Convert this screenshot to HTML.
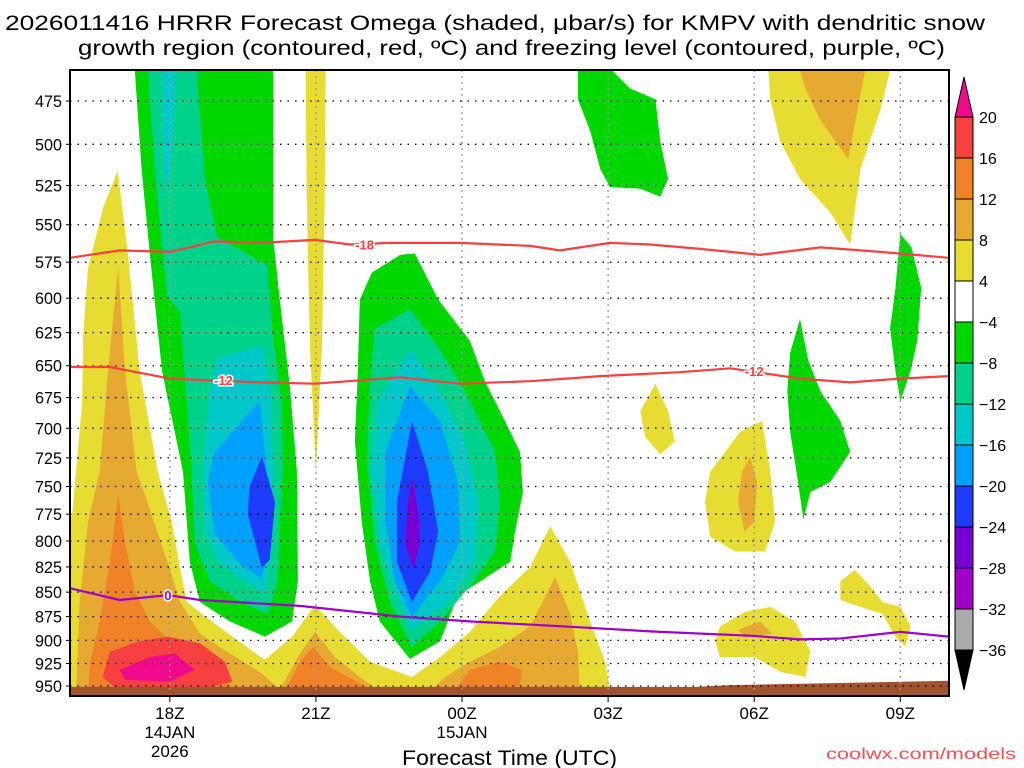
<!DOCTYPE html>
<html><head><meta charset="utf-8"><style>
html,body{margin:0;padding:0;background:#fff;width:1024px;height:768px;overflow:hidden}
svg text{font-family:"Liberation Sans",sans-serif}
</style></head><body>
<svg id="chart" width="1024" height="768" xmlns="http://www.w3.org/2000/svg">
<text x="5" y="30" font-size="21" textLength="980" lengthAdjust="spacingAndGlyphs">2026011416 HRRR Forecast Omega (shaded, μbar/s) for KMPV with dendritic snow</text>
<text x="78" y="55" font-size="21" textLength="867" lengthAdjust="spacingAndGlyphs">growth region (contoured, red, ºC) and freezing level (contoured, purple, ºC)</text>
<defs><clipPath id="pc"><rect x="70" y="70" width="879" height="626"/></clipPath></defs>
<g id="fills" clip-path="url(#pc)"></g>
<g id="grid"></g>
<g id="lines" clip-path="url(#pc)"></g>
<rect x="70" y="70" width="879" height="626" fill="none" stroke="#000" stroke-width="2"/>
<g id="axes"></g>
<g id="cbar"></g>
<text x="402" y="765" font-size="21" textLength="215" lengthAdjust="spacingAndGlyphs">Forecast Time (UTC)</text>
<text x="826" y="759" font-size="16" fill="#f05050" textLength="190" lengthAdjust="spacingAndGlyphs">coolwx.com/models</text>
</svg>
<script>
// ---- data ----
const hourDomain=[15.95,34.0];
const pressureTicks=[475,500,525,550,575,600,625,650,675,700,725,750,775,800,825,850,875,900,925,950];
const timeTickHours=[18,21,24,27,30,33];
const timeTickLabels=["18Z","21Z","00Z","03Z","06Z","09Z"];
const dateLabels=[[18,"14JAN","2026"],[24,"15JAN",""]];
const levelBounds=[20,16,12,8,4,-4,-8,-12,-16,-20,-24,-28,-32,-36];
const levelColors=["#f74040","#f08228","#e6aa32","#e6dc32","#ffffff","#00d700","#00d28c","#00c8c8","#00a0ff","#1e3cff","#7800d2","#a000c8","#aaaaaa"];
const colorAbove="#ef0a8c", colorBelow="#000000";
const C={y:"#e6dc32",o1:"#e6aa32",o2:"#f08228",r:"#f74040",m:"#ef0a8c",g:"#00d700",t:"#00d28c",c:"#00c8c8",b:"#00a0ff",d:"#1e3cff",p:"#7800d2"};
const yellowMain=[[15.95,960],[15.95,782],[16.0,773],[16.2,678],[16.22,628],[16.32,579],[16.63,539],[16.93,516],[17.14,570],[17.38,654],[17.75,737],[18.04,782],[18.21,827],[18.35,860],[18.68,873],[19.23,894],[19.95,921],[20.51,896],[20.98,863],[21.49,891],[22.11,923],[22.97,940],[23.55,918],[24.16,891],[24.78,854],[25.4,825],[25.81,786],[26.22,820],[26.63,880],[26.94,923],[27.04,956],[27.04,960]];
const orangeLightLeft=[[16.07,960],[16.09,934],[16.15,860],[16.32,782],[16.56,737],[16.73,654],[16.94,579],[17.08,654],[17.32,737],[17.54,764],[18.0,827],[18.21,860],[18.62,893],[19.23,914],[19.89,936],[20.26,954],[20.67,914],[20.98,891],[21.39,918],[21.9,940],[22.31,956],[22.31,960]];
const orangeLightMid=[[23.34,956],[23.65,940],[24.16,923],[24.78,907],[25.4,885],[25.91,835],[26.22,872],[26.38,912],[26.42,956],[26.42,960],[23.34,960]];
const orangeLeft=[[16.94,758],[17.08,801],[17.28,849],[17.59,880],[18.21,912],[19.23,943],[19.23,956],[16.32,956],[16.36,923],[16.56,880],[16.77,820]];
const orange21=[[20.36,956],[20.67,923],[20.94,907],[21.29,929],[22.01,950],[22.01,956]];
const orange00=[[23.86,954],[24.16,932],[24.78,923],[25.23,932],[25.19,950]];
const redLeft=[[16.62,940],[16.77,912],[17.38,901],[17.96,896],[18.62,903],[19.13,923],[19.28,945],[18.62,954],[16.97,956]];
const magentaLeft=[[16.97,932],[17.59,918],[18.1,914],[18.51,932],[18,945],[17.08,943]];
const yellowTopRight=[[30.29,458],[32.79,458],[32.59,480],[32.18,515],[31.97,563],[31.56,542],[30.94,521],[30.53,498],[30.33,474]];
const orangeTopRight=[[30.94,458],[32.28,458],[32.12,480],[31.93,509],[31.36,486],[31.05,468]];
const yellowBlob04=[[27.66,686],[27.97,664],[28.23,686],[28.37,711],[28.07,722],[27.76,707]];
const yellowBlob06=[[29.1,737],[29.71,703],[30.16,694],[30.33,737],[30.43,782],[30.22,810],[29.61,810],[29.1,796],[28.99,764]];
const orangeBlob06=[[29.75,737],[29.92,724],[30.06,746],[30.0,782],[29.8,791],[29.67,764]];
const yellowLow06=[[29.3,885],[29.82,870],[30.33,865],[30.84,880],[31.15,912],[31.05,940],[30.53,934],[30.02,918],[29.3,918],[29.2,901]];
const orangeLow06=[[29.67,889],[30.12,880],[30.37,893],[29.82,897]];
const yellowLow09=[[31.77,839],[32.07,828],[32.38,844],[32.63,860],[33,865],[33.21,885],[33.1,907],[32.9,896],[32.63,872],[32.18,865],[31.77,858]];
const yellowThin21=[[20.79,458],[21.2,458],[21.18,533],[21.12,638],[21.0,737],[20.88,638],[20.81,533]];
const greenLeft=[[17.28,458],[20.12,458],[20.12,558],[20.26,602],[20.47,668],[20.61,737],[20.63,839],[20.51,880],[19.95,896],[19.23,880],[18.62,860],[18.41,820],[18.27,737],[17.84,654],[17.59,570],[17.42,515]];
const tealLeft=[[17.55,458],[18.55,458],[18.72,521],[18.97,558],[19.99,577],[20.12,628],[20.3,680],[20.32,737],[20.26,782],[20.22,839],[20.01,872],[19.44,860],[18.82,839],[18.51,801],[18.45,737],[18.21,610],[17.94,598],[17.69,515]];
const cyanLeftUpper=[[17.84,458],[18.14,458],[18.04,504],[17.94,533],[17.86,504]];
const cyanLeft=[[18.97,644],[19.91,635],[20.1,680],[20.12,737],[20.1,801],[19.95,851],[19.54,839],[19.03,822],[18.72,791],[18.68,737],[18.82,670]];
const blueLeft=[[19.85,678],[19.99,737],[20.01,801],[19.89,837],[19.44,822],[18.92,793],[18.78,746],[18.92,720]];
const dkBlueLeft=[[19.89,724],[20.16,764],[20.05,818],[19.89,826],[19.6,775],[19.64,750]];
const greenMid=[[21.9,601],[22.15,582],[22.73,570],[23.03,569],[23.51,601],[24.16,631],[24.47,662],[24.88,694],[25.19,720],[25.25,755],[25.09,791],[24.99,820],[24.06,849],[23.86,860],[23.55,901],[22.93,920],[22.31,880],[22.11,839],[21.94,782],[21.8,711],[21.86,654]];
const tealMid=[[22.21,622],[22.93,608],[23.55,638],[24.06,670],[24.68,720],[24.78,764],[24.68,810],[24.16,844],[23.55,880],[22.97,907],[22.52,860],[22.21,801],[22.05,728],[22.11,662]];
const cyanMid=[[22.27,678],[22.93,638],[23.55,670],[24.06,711],[24.33,764],[24.27,820],[23.75,860],[22.97,889],[22.62,849],[22.31,801],[22.15,737]];
const blueMid=[[22.42,720],[22.93,666],[23.55,694],[23.92,746],[23.96,801],[23.55,839],[22.97,875],[22.62,839],[22.42,782]];
const dkBlueMid=[[22.66,764],[22.97,694],[23.3,737],[23.51,791],[23.34,830],[22.97,860],[22.66,820]];
const purpleMid=[[22.89,764],[22.97,742],[23.1,773],[23.14,801],[23.0,828],[22.83,801]];
const greenTop03=[[26.38,474],[26.38,458],[27.08,458],[27.45,468],[27.97,474],[28.07,498],[28.23,521],[28.07,532],[27.66,527],[27.04,526],[26.84,515],[26.63,492]];
const green07=[[30.74,640],[30.94,615],[31.11,646],[31.36,670],[31.77,694],[31.97,720],[31.56,746],[31.15,755],[31.01,780],[30.9,746],[30.74,703],[30.68,670]];
const green09=[[33,556],[33.23,565],[33.43,593],[33.35,631],[33.21,654],[33,678],[32.9,654],[32.79,622],[32.9,593]];
const terrain=[[15.95,951],[28.8,951],[29.5,949],[31.5,947],[34,944]];
const line18=[[15.95,572],[16.97,567],[18,568],[18.92,561],[19.85,562],[20.98,560],[21.7,563],[22.52,562],[23.96,562],[25.4,564],[26.01,567],[27.04,562],[27.86,563],[28.89,566],[30.12,570],[31.36,565],[32.59,568],[34,572]];
const line12=[[15.95,651],[16.77,651],[18,660],[19.85,663],[20.98,664],[22.73,659],[23.96,664],[25.4,662],[26.84,658],[28.48,655],[29.51,652],[30.94,660],[31.97,663],[33,660],[34,658]];
const line0=[[15.95,846],[16.97,858],[17.96,853],[18.62,858],[20.67,864],[22.73,875],[24.16,880],[26.01,885],[28.07,891],[29.92,895],[30.94,899],[31.77,898],[33,891],[34,896]];
const lineLabels18=[[22.0,563,"-18"]];
const lineLabels12=[[19.1,661,"-12"],[30.0,654,"-12"]];
const lineLabels0=[[17.96,853,"0"]];
// ---- scales ----
const X0=70,X1=949,Y0=70,Y1=696;
function xS(h){return X0+(h-hourDomain[0])/(hourDomain[1]-hourDomain[0])*(X1-X0);}
function yS(p){return 101+844*Math.log(p/475);}
const NS="http://www.w3.org/2000/svg";
function mk(tag,attrs,parent){const e=document.createElementNS(NS,tag);for(const k in attrs)e.setAttribute(k,attrs[k]);parent.appendChild(e);return e;}
function pts(a){return a.map(d=>xS(d[0]).toFixed(1)+","+yS(d[1]).toFixed(1)).join(" ");}
const fills=document.getElementById("fills");
const layers=[
 ["yellow-region-left",yellowMain,C.y],["orange-light-left",orangeLightLeft,C.o1],["orange-light-mid",orangeLightMid,C.o1],
 ["orange-left",orangeLeft,C.o2],["orange-21z",orange21,C.o2],["orange-00z",orange00,C.o2],["red-left",redLeft,C.r],["magenta-left",magentaLeft,C.m],
 ["yellow-top-right",yellowTopRight,C.y],["orange-top-right",orangeTopRight,C.o1],["yellow-blob-04z",yellowBlob04,C.y],
 ["yellow-blob-06z",yellowBlob06,C.y],["orange-blob-06z",orangeBlob06,C.o1],["yellow-low-06z",yellowLow06,C.y],["orange-low-06z",orangeLow06,C.o1],
 ["yellow-low-09z",yellowLow09,C.y],["yellow-thin-21z",yellowThin21,C.y],
 ["green-left",greenLeft,C.g],["teal-left",tealLeft,C.t],["cyan-left-upper",cyanLeftUpper,C.c],["cyan-left",cyanLeft,C.c],["blue-left",blueLeft,C.b],["darkblue-left",dkBlueLeft,C.d],
 ["green-mid",greenMid,C.g],["teal-mid",tealMid,C.t],["cyan-mid",cyanMid,C.c],["blue-mid",blueMid,C.b],["darkblue-mid",dkBlueMid,C.d],["purple-mid",purpleMid,C.p],
 ["green-top-03z",greenTop03,C.g],["green-07z",green07,C.g],["green-09z",green09,C.g]];
layers.forEach(L=>{const e=mk("polygon",{points:pts(L[1]),fill:L[2]},fills);

});
const ter=mk("polygon",{points:pts(terrain)+" "+X1+","+Y1+" "+X0+","+Y1,fill:"#a0522d"},fills);


// grid
const grid=document.getElementById("grid"),axes=document.getElementById("axes");
pressureTicks.forEach(p=>{const y=yS(p);
 const gl=mk("line",{x1:X0,x2:X1,y1:y,y2:y,stroke:"#000","stroke-width":1.3,"stroke-dasharray":"1.5 6"},grid);
 
 
 const t=mk("text",{x:62,y:y+6,"font-size":17,"text-anchor":"end",transform:`translate(62 0) scale(0.95 1) translate(-62 0)`},axes);t.textContent=p;
 
 
 mk("line",{x1:X0-4,x2:X0,y1:y,y2:y,stroke:"#000"},axes);});
timeTickHours.forEach((h,i)=>{const x=xS(h);
 const gl=mk("line",{x1:x,x2:x,y1:Y0,y2:Y1,stroke:"#999","stroke-width":1.3,"stroke-dasharray":"2 4"},grid);
 
 
 mk("line",{x1:x,x2:x,y1:Y1,y2:Y1+6,stroke:"#000"},axes);
 const t=mk("text",{x:x,y:719,"font-size":17,"text-anchor":"middle"},axes);t.textContent=timeTickLabels[i];
 
 });
dateLabels.forEach(d=>{const x=xS(d[0]);
 const a=mk("text",{x:x,y:738,"font-size":17,"text-anchor":"middle"},axes);a.textContent=d[1];
 
 
 if(d[2]){const b=mk("text",{x:x,y:757,"font-size":17,"text-anchor":"middle"},axes);b.textContent=d[2];
 
 }});
// lines
const lines=document.getElementById("lines");
function drawLine(arr,col,labels,name){
 const e=mk("polyline",{points:pts(arr),fill:"none",stroke:col,"stroke-width":2.2},lines);
 
 
 labels.forEach(l=>{const x=xS(l[0]),y=yS(l[1]);
  const t=mk("text",{x:x,y:y+5,"font-size":13,"font-weight":"bold","text-anchor":"middle",fill:col,stroke:"#fff","stroke-width":3,"paint-order":"stroke"},lines);t.textContent=l[2];
  
  });}
drawLine(line18,"#f74040",lineLabels18,"dgz-minus18-contour");
drawLine(line12,"#f74040",lineLabels12,"dgz-minus12-contour");
drawLine(line0,"#a000c8",lineLabels0,"freezing-level-contour");
// colorbar
const cb=document.getElementById("cbar");const cx=955,cw=18,ct=117,step=41;
levelColors.forEach((c,i)=>{const r=mk("rect",{x:cx,y:ct+i*step,width:cw,height:step,fill:c,stroke:"#000","stroke-width":1},cb);
 
 });
const up=mk("polygon",{points:`${cx},${ct} ${cx+cw},${ct} ${cx+cw/2},${ct-40}`,fill:colorAbove,stroke:"#000"},cb);


const lb=ct+(levelColors.length)*step;
const dn=mk("polygon",{points:`${cx},${lb} ${cx+cw},${lb} ${cx+cw/2},${lb+40}`,fill:colorBelow,stroke:"#000"},cb);


levelBounds.forEach((v,i)=>{const t=mk("text",{x:979,y:ct+i*step+6,"font-size":16},cb);t.textContent=(v<0?"\u2212"+(-v):String(v));
 
 });
</script>
</body></html>
